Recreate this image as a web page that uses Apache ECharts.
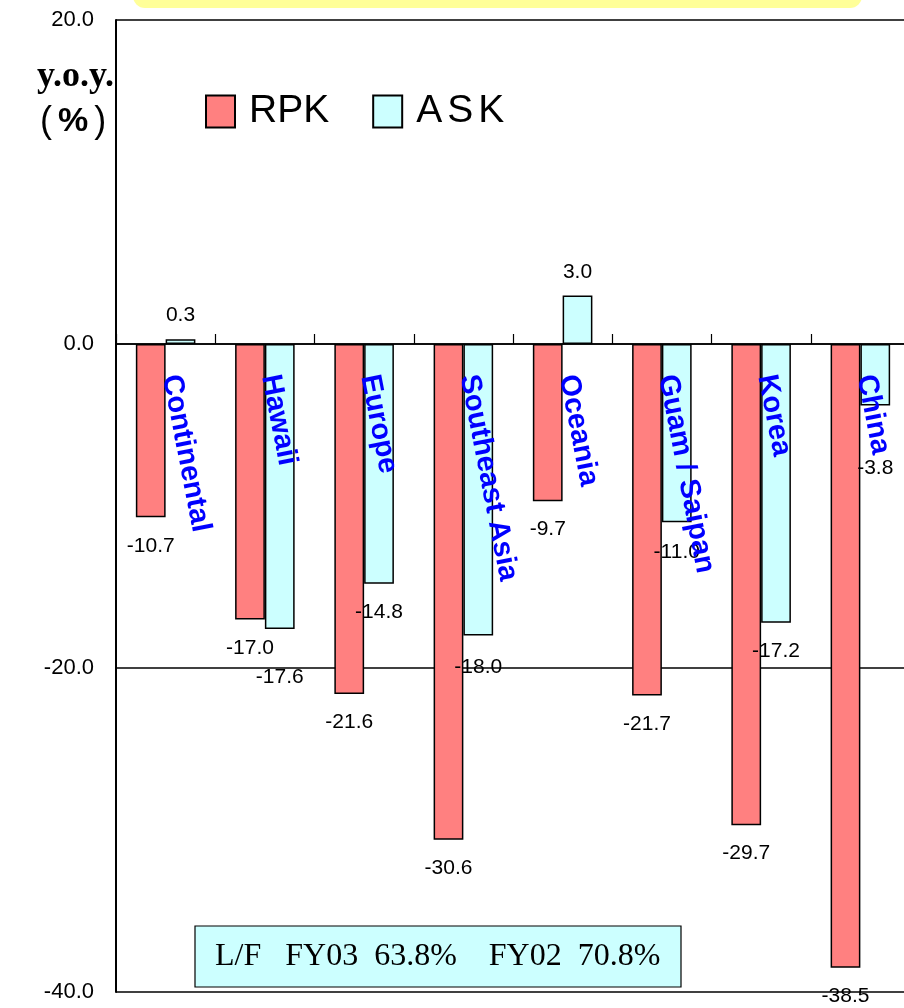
<!DOCTYPE html>
<html><head><meta charset="utf-8">
<script src="https://cdn.jsdelivr.net/npm/echarts@6/dist/echarts.min.js"></script>
<style>html,body{margin:0;padding:0;background:#fff}#c{width:904px;height:1008px}</style>
</head><body><div id="c"></div>
<script>
// ---- data ----
const categories = ['Continental', 'Hawaii', 'Europe', 'Southeast Asia', 'Oceania', 'Guam / Saipan', 'Korea', 'China'];
const rpk = [-10.7, -17.0, -21.6, -30.6, -9.7, -21.7, -29.7, -38.5];
const ask = [0.3, -17.6, -14.8, -18.0, 3.0, -11.0, -17.2, -3.8];
const yMin = -40, yMax = 20, yStep = 20;
const seriesNames = ['RPK', 'ASK'];
const loadFactorText = 'L/F   FY03  63.8%    FY02  70.8%';
const yName1 = 'y.o.y.';

// ---- styles ----
const SANS = "'Liberation Sans',Arial,sans-serif";
const SERIF = "'Liberation Serif','Times New Roman',serif";
const askLabelShift = [0, 20, 0, 3, 0, 2, 0, 34];

function items(vals, shift) {
  return vals.map((v, i) => ({
    value: v,
    label: { position: v < 0 ? 'bottom' : 'top', distance: (v < 0 ? 18 : 13) + (shift ? shift[i] : 0) }
  }));
}

const chart = echarts.init(document.getElementById('c'), null, { renderer: 'canvas' });
const barLabel = {
  show: true, color: '#000', fontFamily: SANS, fontSize: 21,
  formatter: p => p.value.toFixed(1)
};
const baseGraphics = [
  { type: 'rect', shape: { x: 133, y: -20, width: 729, height: 28, r: 12 }, style: { fill: '#FFFF99' }, z: 10 },
  { type: 'text', left: 37, top: 59, style: { text: yName1, font: "bold 36px " + SERIF, fill: '#000' }, z: 10 },
  { type: 'text', left: 40, top: 104, style: {
      text: '{p|(}{b|%}{p|)}', fill: '#000',
      rich: {
        p: { fontFamily: SANS, fontSize: 36, fill: '#000' },
        b: { fontFamily: SANS, fontWeight: 'bold', fontSize: 34, fill: '#000', padding: [0, 6, 0, 6] }
      }
    }, z: 10 },
  { type: 'rect', shape: { x: 195, y: 926, width: 486, height: 61 }, style: { fill: '#CCFFFF', stroke: '#000', lineWidth: 1.2 }, z: 10 },
  { type: 'text', x: 215, y: 957, style: {
      text: loadFactorText, font: "32px " + SERIF, fill: '#000',
      verticalAlign: 'middle', textAlign: 'left'
    }, z: 11 }
];

chart.setOption({
  animation: false,
  backgroundColor: '#fff',
  grid: { left: 116, right: -6, top: 20, bottom: 16, containLabel: false, outerBoundsMode: 'none' },
  legend: {
    left: 205, top: 92, padding: 0, itemWidth: 29, itemHeight: 32, itemGap: 43,
    icon: 'rect',
    formatter: n => n === 'ASK' ? '{a|A}{s| }{a|S}{s| }{a|K}' : '{r|' + n + '}',
    textStyle: {
      color: '#000', padding: [0, 0, 0, 9],
      rich: {
        r: { fontFamily: SANS, fontSize: 39, color: '#000' },
        a: { fontFamily: SANS, fontSize: 39, color: '#000' },
        s: { fontFamily: SANS, fontSize: 18, color: '#000' }
      }
    },
    data: seriesNames
  },
  xAxis: {
    type: 'category', data: categories, z: 3,
    axisLine: { onZero: true, lineStyle: { color: '#000', width: 1.5 } },
    axisTick: { show: true, interval: 0, inside: true, length: 10, lineStyle: { color: '#000', width: 1.2 } },
    axisLabel: { show: false },
    splitLine: { show: false }
  },
  yAxis: {
    type: 'value', min: yMin, max: yMax, interval: yStep,
    axisLine: { show: true, lineStyle: { color: '#000', width: 2 } },
    axisTick: { show: false },
    axisLabel: {
      margin: 22, color: '#000', fontFamily: SANS, fontSize: 22, padding: [7, 0, 0, 0],
      formatter: v => v.toFixed(1)
    },
    splitLine: { show: true, lineStyle: { color: '#000', width: 1.5 } }
  },
  series: [
    {
      name: seriesNames[0], type: 'bar', data: items(rpk), barGap: '0%', barCategoryGap: '40%',
      itemStyle: { color: '#FF8080', borderColor: '#000', borderWidth: 1.5 },
      label: barLabel
    },
    {
      name: seriesNames[1], type: 'bar', data: items(ask, askLabelShift), barGap: '0%', barCategoryGap: '40%',
      itemStyle: { color: '#CCFFFF', borderColor: '#000', borderWidth: 1.5 },
      label: barLabel
    }
  ],
  graphic: baseGraphics
});

// category labels placed at the zero line via the chart's own scales
const catLabels = categories.map((c, i) => {
  const p = chart.convertToPixel({ xAxisIndex: 0, yAxisIndex: 0 }, [i, 0]);
  return {
    type: 'text', x: p[0] + 5, y: p[1] + 31, rotation: -79 * Math.PI / 180, z: 20,
    style: {
      text: c, fill: '#0000FF', font: "bold 29px " + SANS,
      textAlign: 'left', verticalAlign: 'middle'
    }
  };
});
chart.setOption({ graphic: baseGraphics.concat(catLabels) });
</script>
</body></html>
